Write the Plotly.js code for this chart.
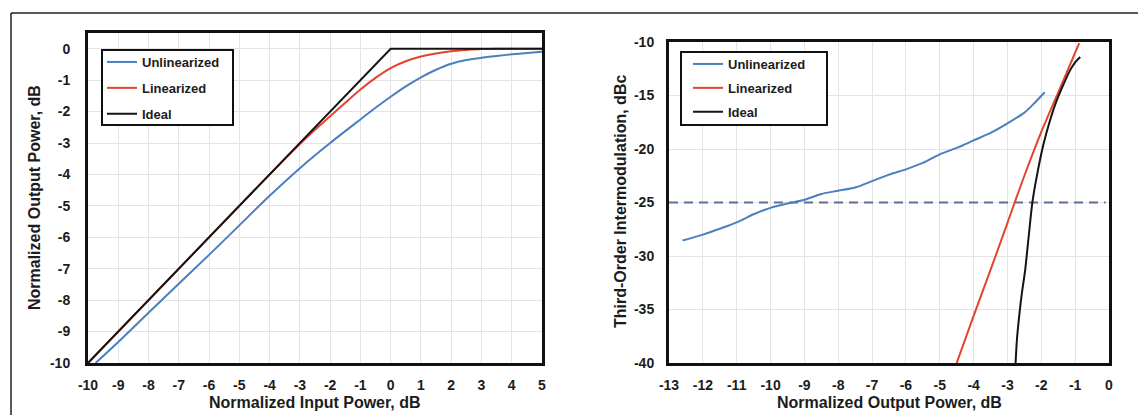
<!DOCTYPE html>
<html>
<head>
<meta charset="utf-8">
<script src="https://cdn.plot.ly/plotly-3.0.1.min.js"></script>
<style>html,body{margin:0;padding:0;background:#fff;}#chart{width:1138px;height:415px;}</style>
</head>
<body>
<div id="chart"></div>
<script>
// ---- Series names ----
const seriesNames = ['Unlinearized', 'Linearized', 'Ideal'];

// ---- Left chart: output power vs input power ----
const leftUnlinX = [-9.75, -9, -8, -7, -6, -5, -4, -3, -2, -1, -0.5, 0, 0.5, 1, 1.5, 2, 2.5, 3, 3.5, 4, 4.5, 5];
const leftUnlinY = [-10, -9.33, -8.4, -7.48, -6.56, -5.62, -4.68, -3.8, -3.0, -2.25, -1.88, -1.53, -1.2, -0.91, -0.67, -0.48, -0.36, -0.29, -0.23, -0.18, -0.14, -0.1];

const leftLinX = [-10, -5, -3.5, -3, -2.5, -2, -1.5, -1, -0.5, 0, 0.5, 1, 1.5, 2, 2.5, 3, 3.5, 4, 5];
const leftLinY = [-10, -5, -3.51, -3.03, -2.58, -2.15, -1.72, -1.3, -0.93, -0.62, -0.4, -0.25, -0.15, -0.08, -0.04, -0.01, 0, 0, 0];

const leftIdealX = [-10, 0, 5];
const leftIdealY = [-10, 0, 0];

const leftXTickVals = [-10, -9, -8, -7, -6, -5, -4, -3, -2, -1, 0, 1, 2, 3, 4, 5];
const leftXTickText = ['-10', '-9', '-8', '-7', '-6', '-5', '-4', '-3', '-2', '-1', '0', '1', '2', '3', '4', '5'];
const leftYTickVals = [-10, -9, -8, -7, -6, -5, -4, -3, -2, -1, 0];
const leftYTickText = ['-10', '-9', '-8', '-7', '-6', '-5', '-4', '-3', '-2', '-1', '0'];

// ---- Right chart: IM3 vs output power ----
const rightUnlinX = [-12.6, -12, -11.5, -11, -10.5, -10, -9.5, -9, -8.5, -8, -7.5, -7, -6.5, -6, -5.5, -5, -4.5, -4, -3.5, -3, -2.5, -2.2, -1.9];
const rightUnlinY = [-28.55, -28.0, -27.45, -26.85, -26.1, -25.5, -25.1, -24.75, -24.2, -23.9, -23.6, -23.0, -22.4, -21.9, -21.3, -20.5, -19.9, -19.2, -18.5, -17.6, -16.6, -15.7, -14.7];

const rightLinX = [-4.5, -4, -3.5, -3, -2.5, -2, -1.5, -1, -0.88];
const rightLinY = [-40, -35.6, -31.3, -26.9, -22.5, -18.4, -14.7, -11.0, -10.1];

const rightIdealX = [-2.76, -2.72, -2.66, -2.58, -2.48, -2.38, -2.26, -2.1, -1.94, -1.75, -1.55, -1.35, -1.16, -1.0, -0.85];
const rightIdealY = [-40, -37.8, -35.8, -33.6, -31.4, -28.4, -24.9, -22.0, -19.6, -17.4, -15.5, -14.0, -12.7, -11.9, -11.4];

const refLevel = -25;
const rightRefX = [-13, -0.1];

const rightXTickVals = [-13, -12, -11, -10, -9, -8, -7, -6, -5, -4, -3, -2, -1, 0];
const rightXTickText = ['-13', '-12', '-11', '-10', '-9', '-8', '-7', '-6', '-5', '-4', '-3', '-2', '-1', '0'];
const rightYTickVals = [-40, -35, -30, -25, -20, -15, -10];
const rightYTickText = ['-40', '-35', '-30', '-25', '-20', '-15', '-10'];

const colors = ['#4a7fc0', '#e5432d', '#141414'];

const W = 1138, H = 415;
const px = v => v / W;
const py = v => (H - v) / H;

const FAM = 'Liberation Sans, Arial, sans-serif';
const boldFont = (size) => ({family: FAM, size: size, color: '#1c1c1c', weight: 'bold'});

const traces = [
  {x: leftUnlinX, y: leftUnlinY, name: seriesNames[0], mode: 'lines', line: {color: colors[0], width: 2, shape: 'spline', smoothing: 0.8}, xaxis: 'x', yaxis: 'y', legend: 'legend', legendgroup: 'a'},
  {x: leftLinX, y: leftLinY, name: seriesNames[1], mode: 'lines', line: {color: colors[1], width: 2, shape: 'spline', smoothing: 0.8}, xaxis: 'x', yaxis: 'y', legend: 'legend', legendgroup: 'b'},
  {x: leftIdealX, y: leftIdealY, name: seriesNames[2], mode: 'lines', line: {color: colors[2], width: 2}, xaxis: 'x', yaxis: 'y', legend: 'legend', legendgroup: 'c'},
  {x: rightRefX, y: rightRefX.map(() => refLevel), mode: 'lines', line: {color: '#5d6f98', width: 2, dash: '9px,6px'}, xaxis: 'x2', yaxis: 'y2', showlegend: false, hoverinfo: 'skip'},
  {x: rightUnlinX, y: rightUnlinY, name: seriesNames[0], mode: 'lines', line: {color: colors[0], width: 2, shape: 'spline', smoothing: 0.8}, xaxis: 'x2', yaxis: 'y2', legend: 'legend2', legendgroup: 'd'},
  {x: rightLinX, y: rightLinY, name: seriesNames[1], mode: 'lines', line: {color: colors[1], width: 2, shape: 'spline', smoothing: 0.8}, xaxis: 'x2', yaxis: 'y2', legend: 'legend2', legendgroup: 'e'},
  {x: rightIdealX, y: rightIdealY, name: seriesNames[2], mode: 'lines', line: {color: colors[2], width: 2, shape: 'spline', smoothing: 0.8}, xaxis: 'x2', yaxis: 'y2', legend: 'legend2', legendgroup: 'f'}
];

const axisCommon = {
  showline: true, mirror: true, linecolor: '#111', linewidth: 3,
  showgrid: true, gridcolor: '#e4e4e4', gridwidth: 1,
  zeroline: false, tickfont: boldFont(14), tickmode: 'array',
  ticks: 'outside', tickcolor: 'rgba(0,0,0,0)', fixedrange: true
};

const legendCommon = {
  bgcolor: 'rgba(0,0,0,0)', bordercolor: '#111', borderwidth: 0,
  font: {family: FAM, size: 13, color: '#1c1c1c', weight: 'bold'},
  xanchor: 'left', yanchor: 'top', itemwidth: 30, traceorder: 'grouped'
};

const layout = {
  width: W, height: H,
  margin: {l: 0, r: 0, t: 0, b: 0},
  paper_bgcolor: '#ffffff', plot_bgcolor: '#ffffff',
  showlegend: true,
  xaxis: Object.assign({}, axisCommon, {domain: [px(88), px(542)], range: [-10, 5], tickvals: leftXTickVals, ticktext: leftXTickText, ticklen: 7, anchor: 'y'}),
  yaxis: Object.assign({}, axisCommon, {domain: [py(363), py(33)], range: [-10, 0.5], tickvals: leftYTickVals, ticktext: leftYTickText, ticklen: 12, anchor: 'x'}),
  xaxis2: Object.assign({}, axisCommon, {domain: [px(669), px(1109)], range: [-13, 0], tickvals: rightXTickVals, ticktext: rightXTickText, ticklen: 7, anchor: 'y2'}),
  yaxis2: Object.assign({}, axisCommon, {domain: [py(363), py(42)], range: [-40, -10], tickvals: rightYTickVals, ticktext: rightYTickText, ticklen: 9, anchor: 'x2'}),
  legend: Object.assign({}, legendCommon, {x: px(102), y: py(47), tracegroupgap: 6}),
  legend2: Object.assign({}, legendCommon, {x: px(688), y: py(49), tracegroupgap: 4}),
  annotations: [
    {text: 'Normalized Input Power, dB', xref: 'paper', yref: 'paper', x: px(315), y: py(402), showarrow: false, font: boldFont(16), xanchor: 'center', yanchor: 'middle'},
    {text: 'Normalized Output Power, dB', xref: 'paper', yref: 'paper', x: px(35), y: py(198), textangle: -90, showarrow: false, font: boldFont(16), xanchor: 'center', yanchor: 'middle'},
    {text: 'Normalized Output Power, dB', xref: 'paper', yref: 'paper', x: px(889), y: py(402), showarrow: false, font: boldFont(16), xanchor: 'center', yanchor: 'middle'},
    {text: 'Third-Order Intermodulation, dBc', xref: 'paper', yref: 'paper', x: px(620), y: py(202), textangle: -90, showarrow: false, font: boldFont(16), xanchor: 'center', yanchor: 'middle'}
  ],
  shapes: [
    {type: 'line', xref: 'paper', yref: 'paper', x0: px(11), x1: 1, y0: py(13), y1: py(13), line: {color: '#222', width: 1.5}},
    {type: 'line', xref: 'paper', yref: 'paper', x0: px(11), x1: px(11), y0: py(13), y1: 0, line: {color: '#222', width: 1.5}},
    {type: 'rect', xref: 'paper', yref: 'paper', layer: 'above', x0: px(102), x1: px(233), y0: py(125), y1: py(50), fillcolor: '#ffffff', line: {color: '#111', width: 2}},
    {type: 'rect', xref: 'paper', yref: 'paper', layer: 'above', x0: px(681), x1: px(827), y0: py(125), y1: py(52), fillcolor: '#ffffff', line: {color: '#111', width: 2}}
  ]
};

Plotly.newPlot('chart', traces, layout, {displayModeBar: false, staticPlot: true});
</script>
</body>
</html>
